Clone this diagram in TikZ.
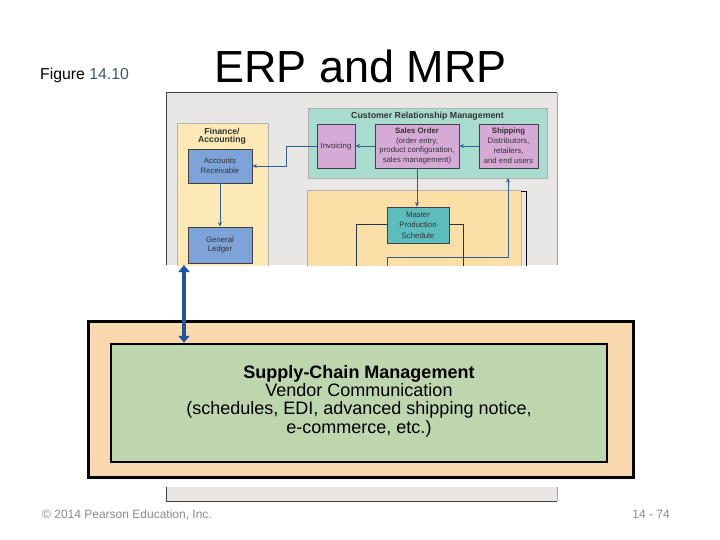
\documentclass[tikz,border=0pt]{standalone}
\usepackage{fontspec}
\setmainfont{Liberation Sans}
\usetikzlibrary{arrows.meta}
\definecolor{figbg}{HTML}{E9E7E6}
\definecolor{finpanel}{HTML}{FCE9B6}
\definecolor{bluebox}{HTML}{7EA3D8}
\definecolor{crmteal}{HTML}{A8DCCF}
\definecolor{purplebox}{HTML}{D6AAD6}
\definecolor{prodpanel}{HTML}{FCDFA6}
\definecolor{mpsteal}{HTML}{5DBDBE}
\definecolor{flowblue}{HTML}{2E6096}
\definecolor{navyline}{HTML}{1F3550}
\definecolor{bigblue}{HTML}{1F55A0}
\definecolor{outerpeach}{HTML}{F8D8AC}
\definecolor{scmgreen}{HTML}{BDD6AE}
\definecolor{footgray}{HTML}{8A8A8A}
\definecolor{figteal}{HTML}{3A5A6E}
\definecolor{boxtext}{HTML}{333333}
\tikzset{
  panel/.style={draw=gray!60, line width=0.4pt, inner sep=0pt},
  fbox/.style={draw=black!75, line width=0.7pt, inner sep=0.5pt, align=center,
    text=boxtext, font=\fontsize{7.8}{9.9}\selectfont},
  farrow/.style={draw=flowblue, line width=0.9pt, -{Stealth[length=4.5pt,width=4pt]}},
  fline/.style={draw=navyline, line width=1pt},
  bigarrow/.style={draw=bigblue, line width=4.5pt, {Triangle[length=7pt,width=11pt]}-{Triangle[length=7pt,width=11pt]}},
}
\begin{document}
\begin{tikzpicture}[x=1pt,y=-1pt]
\useasboundingbox (0,0) rectangle (720,540);
\fill[white] (0,0) rectangle (720,540);
% header
\node[anchor=base west, inner sep=0pt, font=\fontsize{15.8}{18}\selectfont] (figlabel) at (40,80) {Figure \textcolor{figteal}{14.10}};
\node[anchor=base, inner sep=0pt, font=\fontsize{45}{48}\selectfont] (title) at (360.5,83) {ERP and MRP};
% figure excerpt
\begin{scope}
\clip (166,93) rectangle (557,265);
\fill[figbg] (166,93) rectangle (557,265);
\node[panel, fill=finpanel, minimum width=91pt, minimum height=177pt] (fin) at (222.5,211.5) {};
\node[align=center, inner sep=0pt, font=\bfseries\fontsize{8.7}{8.2}\selectfont, text=boxtext] (fintitle) at (222,136) {Finance/\\Accounting};
\node[fbox, fill=bluebox, minimum width=64pt, minimum height=34pt] (ar) at (220,166) {Accounts\\Receivable};
\node[fbox, fill=bluebox, minimum width=64pt, minimum height=36pt] (gl) at (220,245) {General\\Ledger};
\node[panel, fill=crmteal, minimum width=239pt, minimum height=70pt] (crm) at (427.5,143) {};
\node[inner sep=0pt, font=\bfseries\fontsize{8.8}{10}\selectfont, text=boxtext] (crmtitle) at (427.5,116) {Customer Relationship Management};
\node[fbox, fill=purplebox, minimum width=38pt, minimum height=44pt] (inv) at (336,146) {Invoicing};
\node[fbox, fill=purplebox, minimum width=84pt, minimum height=44pt] (sales) at (417,146) {\textbf{Sales Order}\\(order entry,\\product configuration,\\sales management)};
\node[fbox, fill=purplebox, minimum width=59pt, minimum height=44pt] (ship) at (508.5,146) {\textbf{Shipping}\\Distributors,\\retailers,\\and end users};
\node[panel, fill=prodpanel, minimum width=214pt, minimum height=110pt] (prod) at (414,245) {};
\node[fbox, fill=mpsteal, minimum width=62pt, minimum height=36pt, font=\fontsize{7.8}{10.4}\selectfont] (mps) at (418,225) {Master\\Production\\Schedule};
% figure connectors
\draw[farrow] (ship.west) -- (sales.east);
\draw[farrow] (sales.west) -- (inv.east);
\draw[farrow] (inv.west) -- ++(-30,0) |- (ar.east);
\draw[farrow] (ar.south) -- (gl.north);
\draw[farrow] (sales.south) -- (sales.south |- mps.north);
\coordinate (mpsl) at (356,270);
\coordinate (mpsr) at (463,270);
\coordinate (upstart) at (387,270);
\draw[fline] (mps.west) -| (mpsl);
\draw[fline] (mps.east) -| (mpsr);
\draw[farrow] (upstart) -- (387,257) -- (508,257) -- (508,178);
\coordinate (brk) at (526,270);
\draw[black, line width=0.7pt] (521,191) -- (526,191) -- (brk);
\end{scope}
\draw[black!75, line width=1pt] (166,265) -- (166,93) -- (557,93);
\draw[gray!70, line width=0.6pt] (557,93) -- (557,265);
% bottom strip of the figure
\fill[figbg] (166,487) rectangle (557,501);
\draw[black!75, line width=1pt] (166,487) -- (166,501) -- (557,501);
\draw[gray!70, line width=0.6pt] (557,501) -- (557,487);
% supply chain box
\node[draw=black, line width=3pt, fill=outerpeach, minimum width=545pt, minimum height=156pt] (outer) at (360.5,399) {};
\node[draw=black, line width=2.5pt, fill=scmgreen, minimum width=496pt, minimum height=118pt] (scm) at (359,403) {};
\node[align=center, inner sep=0pt, font=\fontsize{18}{18.4}\selectfont] (scmtext) at (359,401)
  {\textbf{Supply-Chain Management}\\Vendor Communication\\(schedules, EDI, advanced shipping notice,\\e-commerce, etc.)};
\coordinate (gltop) at (184,265);
\draw[bigarrow] (gltop) -- (gltop |- scm.north);
% footer
\node[anchor=base west, inner sep=0pt, text=footgray, font=\fontsize{12}{14}\selectfont] (copy) at (42,518) {© 2014 Pearson Education, Inc.};
\node[anchor=base east, inner sep=0pt, text=footgray, font=\fontsize{12}{14}\selectfont] (page) at (670,518) {14 - 74};
\end{tikzpicture}
\end{document}
